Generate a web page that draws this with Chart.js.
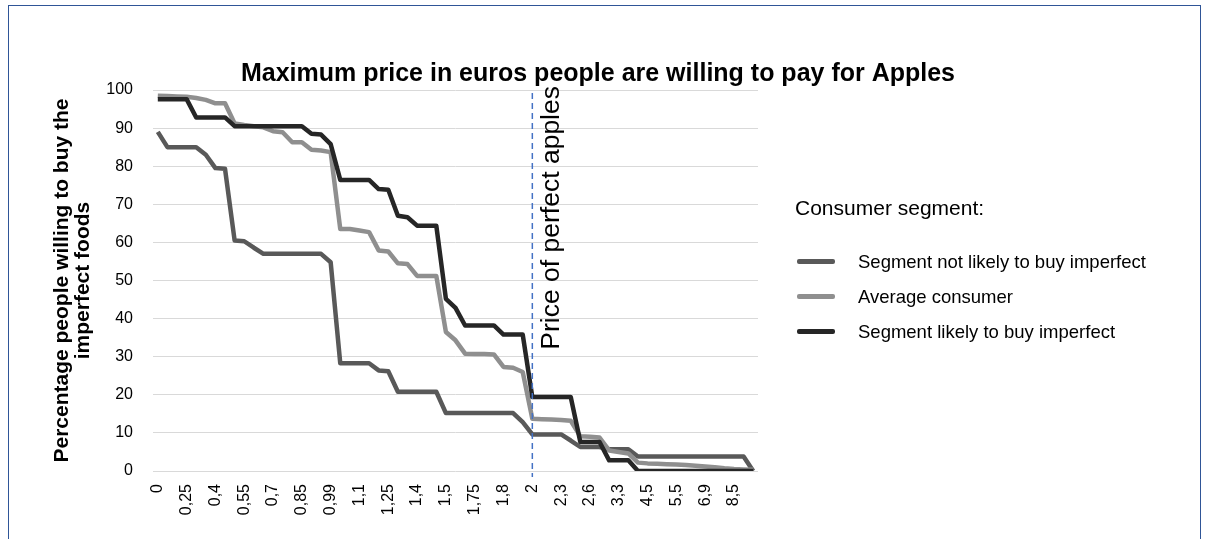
<!DOCTYPE html>
<html>
<head>
<meta charset="utf-8">
<script src="https://cdn.jsdelivr.net/npm/chart.js@4.4.1/dist/chart.umd.min.js"></script>
<style>
    body { margin: 0; background: #fff; font-family: 'Liberation Sans', Arial, sans-serif; }
    #wrap { position: relative; width: 1208px; height: 539px; overflow: hidden; }
    #frame { position: absolute; left: 8px; top: 5px; width: 1191px; height: 600px; border: 1px solid #2f5597; pointer-events: none; }
    #legend { position: absolute; left: 795px; top: 196px; color: #000; }
    #legend .head { font-size: 21px; margin-bottom: 24px; }
    #legend .item { display: flex; align-items: center; height: 35px; font-size: 18.5px; }
    #legend .swatch { width: 38px; height: 5px; border-radius: 2px; margin: 0 23px 0 2px; }
</style>
</head>
<body>
<div id="wrap">
    <canvas id="chart" width="1208" height="539"></canvas>
    <div id="frame"></div>
    <div id="legend"></div>
</div>
<script>
const prices = ['0', '0,1', '0,2', '0,25', '0,3', '0,35', '0,4', '0,45', '0,5', '0,55',
    '0,6', '0,65', '0,7', '0,75', '0,8', '0,85', '0,9', '0,95', '0,99', '1',
    '1,05', '1,1', '1,15', '1,2', '1,25', '1,3', '1,35', '1,4', '1,45', '1,49',
    '1,5', '1,55', '1,7', '1,75', '1,78', '1,79', '1,8', '1,9', '1,99', '2',
    '2,1', '2,2', '2,3', '2,4', '2,5', '2,6', '2,8', '3', '3,3', '3,5',
    '4', '4,5', '4,9', '5', '5,5', '6', '6,5', '6,9', '7', '8',
    '8,5', '9', '10'];

const notLikely = [89, 85, 85, 85, 85, 83, 79.5, 79.3, 60.5, 60.3,
    58.6, 57, 57, 57, 57, 57, 57, 57, 54.8, 28.3,
    28.3, 28.3, 28.3, 26.4, 26.2, 20.8, 20.8, 20.8, 20.8, 20.8,
    15.2, 15.2, 15.2, 15.2, 15.2, 15.2, 15.2, 15.2, 12.8, 9.6,
    9.6, 9.6, 9.6, 8, 6.3, 6.3, 6.3, 5.7, 5.7, 5.7,
    3.8, 3.8, 3.8, 3.8, 3.8, 3.8, 3.8, 3.8, 3.8, 3.8,
    3.8, 3.8, 0];

const average = [98.5, 98.4, 98.3, 98.2, 97.9, 97.4, 96.5, 96.5, 91.2, 90.8,
    90.5, 90.2, 89.2, 88.9, 86.3, 86.3, 84.3, 84.1, 83.7, 63.5,
    63.5, 63.1, 62.7, 57.9, 57.6, 54.5, 54.3, 51.2, 51.2, 51.2,
    36.5, 34.3, 30.8, 30.7, 30.7, 30.6, 27.3, 27.1, 26, 13.7,
    13.6, 13.5, 13.4, 13.2, 9.1, 9, 8.8, 5.4, 5, 4.6,
    2.2, 2, 1.9, 1.8, 1.7, 1.6, 1.4, 1.2, 1, 0.7,
    0.5, 0.4, 0.3];

const likely = [97.6, 97.6, 97.6, 97.6, 92.8, 92.8, 92.8, 92.8, 90.5, 90.5,
    90.5, 90.5, 90.5, 90.5, 90.5, 90.5, 88.5, 88.3, 85.8, 76.4,
    76.4, 76.4, 76.4, 74, 73.8, 67, 66.6, 64.4, 64.4, 64.4,
    45.2, 42.8, 38.2, 38.2, 38.2, 38.2, 35.8, 35.8, 35.8, 19.4,
    19.4, 19.4, 19.4, 19.4, 7.6, 7.6, 7.6, 2.8, 2.8, 2.8,
    0, 0, 0, 0, 0, 0, 0, 0, 0, 0,
    0, 0, 0];

const perfectPrice = '2';

Chart.defaults.font.family = "'Liberation Sans', Arial, sans-serif";
Chart.defaults.color = '#000';

function makeSeries(label, data, color, order) {
    return {
        label: label,
        data: data,
        borderColor: color,
        backgroundColor: color,
        borderWidth: 4.5,
        borderJoinStyle: 'round',
        pointRadius: 0,
        tension: 0,
        order: order
    };
}

const datasets = [
    makeSeries('Segment not likely to buy imperfect', notLikely, '#595959', 3),
    makeSeries('Average consumer', average, '#8f8f8f', 2),
    makeSeries('Segment likely to buy imperfect', likely, '#262626', 1)
];

// dashed marker at the price of perfect apples
const priceLine = {
    id: 'priceLine',
    afterDatasetsDraw(chart) {
        const x = chart.scales.x.getPixelForValue(prices.indexOf(perfectPrice));
        const area = chart.chartArea;
        const ctx = chart.ctx;
        ctx.save();
        ctx.strokeStyle = '#4472c4';
        ctx.lineWidth = 1.5;
        ctx.setLineDash([6, 4]);
        ctx.beginPath();
        ctx.moveTo(x, area.top + 3);
        ctx.lineTo(x, area.bottom + 6);
        ctx.stroke();
        ctx.setLineDash([]);
        ctx.translate(x + 19, area.top - 4);
        ctx.rotate(-Math.PI / 2);
        ctx.fillStyle = '#000';
        ctx.font = "26.5px 'Liberation Sans', Arial, sans-serif";
        ctx.textAlign = 'right';
        ctx.textBaseline = 'middle';
        ctx.fillText('Price of perfect apples', 0, 0);
        ctx.restore();
    }
};

const chart = new Chart(document.getElementById('chart'), {
    type: 'line',
    data: { labels: prices, datasets: datasets },
    options: {
        responsive: false,
        animation: false,
        layout: { padding: { left: 20, top: 59, right: 32, bottom: 0 } },
        plugins: {
            legend: { display: false },
            tooltip: { enabled: false },
            title: {
                display: true,
                text: 'Maximum price in euros people are willing to pay for Apples',
                font: { size: 25, weight: 'bold' },
                padding: { top: 0, bottom: 1 }
            }
        },
        scales: {
            x: {
                offset: true,
                grid: { display: false },
                border: { display: false },
                ticks: {
                    autoSkip: false,
                    minRotation: 90,
                    maxRotation: 90,
                    padding: 5,
                    font: { size: 16 },
                    callback: (v, i) => i % 3 === 0 ? prices[i] : ''
                },
                afterFit: s => { s.height = 68; }
            },
            y: {
                min: 0,
                max: 100,
                ticks: { stepSize: 10, padding: 20, font: { size: 16 } },
                grid: { color: '#d9d9d9', drawTicks: false },
                border: { display: false },
                title: {
                    display: true,
                    text: ['Percentage people willing to buy the', 'imperfect foods'],
                    font: { size: 21, weight: 'bold', lineHeight: 1.0 },
                    padding: { top: 32, bottom: 0 }
                },
                afterFit: s => { s.width = 133; }
            },
            side: {
                type: 'linear',
                position: 'right',
                grid: { display: false },
                border: { display: false },
                ticks: { display: false },
                afterFit: s => { s.width = 418; }
            }
        }
    },
    plugins: [priceLine]
});

// legend built from the datasets
const legend = document.getElementById('legend');
const head = document.createElement('div');
head.className = 'head';
head.textContent = 'Consumer segment:';
legend.appendChild(head);
datasets.forEach(ds => {
    const row = document.createElement('div');
    row.className = 'item';
    row.innerHTML = `<span class="swatch" style="background:${ds.borderColor}"></span><span>${ds.label}</span>`;
    legend.appendChild(row);
});
</script>
</body>
</html>
